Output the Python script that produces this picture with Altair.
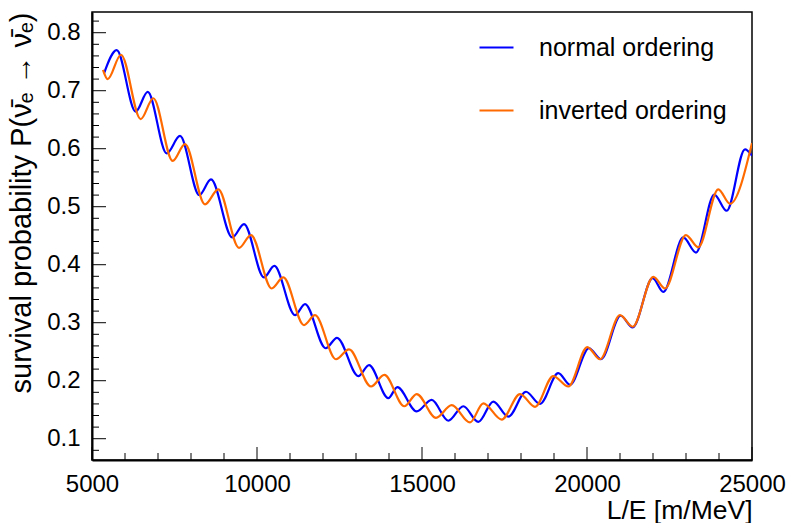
import altair as alt
import numpy as np
import pandas as pd

# Values (local maxima/minima of each curve)
normal_le = [5364, 5748, 6324, 6688, 7264, 7667, 8252, 8606, 9252, 9606, 10212, 10524,
             11152, 11455, 12082, 12424, 13070, 13394, 13979, 14252, 14838, 15293, 15797,
             16252, 16707, 17161, 17616, 18152, 18576, 19130, 19485, 20061, 20424, 21020,
             21384, 21990, 22312, 22918, 23303, 23858, 24233, 24788, 25000]
normal_p = [0.730, 0.770, 0.664, 0.698, 0.592, 0.622, 0.520, 0.547, 0.447, 0.470, 0.378, 0.398,
            0.313, 0.332, 0.256, 0.274, 0.208, 0.227, 0.170, 0.189, 0.147, 0.167, 0.131,
            0.156, 0.129, 0.164, 0.138, 0.181, 0.160, 0.213, 0.193, 0.256, 0.237, 0.312,
            0.292, 0.377, 0.353, 0.447, 0.421, 0.521, 0.493, 0.599, 0.588]

inverted_le = [5333, 5475, 5879, 6476, 6858, 7445, 7818, 8424, 8827, 9455, 9818, 10445,
               10797, 11424, 11758, 12394, 12788, 13455, 13858, 14465, 14838, 15424, 15900,
               16455, 16858, 17415, 17970, 18424, 18979, 19434, 20009, 20394, 21000, 21384,
               22010, 22364, 22999, 23373, 23979, 24333, 25000]
inverted_p = [0.736, 0.720, 0.762, 0.651, 0.687, 0.579, 0.608, 0.504, 0.530, 0.429, 0.451, 0.359,
              0.378, 0.296, 0.313, 0.237, 0.254, 0.190, 0.210, 0.156, 0.177, 0.136, 0.158,
              0.128, 0.161, 0.133, 0.177, 0.155, 0.208, 0.190, 0.258, 0.237, 0.313, 0.293,
              0.379, 0.359, 0.451, 0.430, 0.530, 0.505, 0.610]

series_names = ["normal ordering", "inverted ordering"]
series_colors = ["#0000ff", "#ff6a00"]

x_major = [5000, 10000, 15000, 20000, 25000]
x_minor = [v for v in range(5000, 25001, 1000) if v not in x_major]
y_major = [0.1, 0.2, 0.3, 0.4, 0.5, 0.6, 0.7, 0.8]
y_minor = [round(v, 2) for v in np.arange(0.08, 0.83, 0.02) if min(abs(v - m) for m in y_major) > 1e-6]

df = pd.concat([
    pd.DataFrame({"le": normal_le, "p": normal_p, "series": series_names[0]}),
    pd.DataFrame({"le": inverted_le, "p": inverted_p, "series": series_names[1]}),
])

W, H = 660, 448
FONT = "Liberation Sans"
xscale = alt.Scale(domain=[5000, 25000], nice=False, zero=False)
yscale = alt.Scale(domain=[0.0633, 0.8357], nice=False, zero=False)

xaxis = alt.Axis(values=x_major, format="d", title="L/E [m/MeV]", ticks=False,
                 grid=False, domainColor="black", domainWidth=2, labelFlush=False,
                 labelOverlap=False,
                 labelFontSize=24, labelPadding=12, labelColor="black", labelFont=FONT,
                 titleFontSize=26.5, titleFontWeight="normal", titleFont=FONT,
                 titleColor="black", titleAnchor="end", titleAlign="right",
                 titleX=W, titleY=50, titleBaseline="middle")
yaxis = alt.Axis(values=y_major, format=".1f",
                 title="survival probability P(\u03bd\u0304\u2091 \u2192 \u03bd\u0304\u2091)",
                 ticks=False, grid=False, domainColor="black", domainWidth=2, labelFlush=False,
                 labelOverlap=False,
                 labelFontSize=24, labelPadding=12, labelColor="black", labelFont=FONT,
                 titleFontSize=29, titleFontWeight="normal", titleFont=FONT,
                 titleColor="black", titleAngle=270, titleAlign="right",
                 titleBaseline="middle", titleX=-71, titleY=0)

lines = alt.Chart(df).mark_line(strokeWidth=2.2, interpolate="monotone", clip=True).encode(
    x=alt.X("le:Q", scale=xscale, axis=xaxis),
    y=alt.Y("p:Q", scale=yscale, axis=yaxis),
    color=alt.Color("series:N",
                    scale=alt.Scale(domain=series_names, range=series_colors),
                    sort=series_names,
                    legend=alt.Legend(title=None, orient="none", legendX=386, legendY=17,
                                      symbolType="stroke", symbolSize=1156, symbolStrokeWidth=2.2,
                                      labelFontSize=25, labelFont=FONT, labelColor="black",
                                      labelOffset=24, rowPadding=31, labelLimit=0)),
)

xt_major = alt.Chart(pd.DataFrame({"le": x_major})).mark_rule(color="black", strokeWidth=1).encode(
    x=alt.X("le:Q", scale=xscale, axis=xaxis), y=alt.value(H), y2=alt.value(H - 13))
xt_minor = alt.Chart(pd.DataFrame({"le": x_minor})).mark_rule(color="black", strokeWidth=1).encode(
    x=alt.X("le:Q", scale=xscale, axis=xaxis), y=alt.value(H), y2=alt.value(H - 7))
yt_major = alt.Chart(pd.DataFrame({"p": y_major})).mark_rule(color="black", strokeWidth=1).encode(
    y=alt.Y("p:Q", scale=yscale, axis=yaxis), x=alt.value(0), x2=alt.value(14))
yt_minor = alt.Chart(pd.DataFrame({"p": y_minor})).mark_rule(color="black", strokeWidth=1).encode(
    y=alt.Y("p:Q", scale=yscale, axis=yaxis), x=alt.value(0), x2=alt.value(7))

chart = alt.layer(lines, xt_major, xt_minor, yt_major, yt_minor).properties(
    width=W, height=H,
    autosize=alt.AutoSizeParams(type="none"),
    padding={"left": 92, "top": 12, "right": 36, "bottom": 63},
).configure(background="white").configure_view(stroke="black", strokeWidth=1.5)

chart.save("out.html", embed_options={"renderer": "svg", "actions": False})
